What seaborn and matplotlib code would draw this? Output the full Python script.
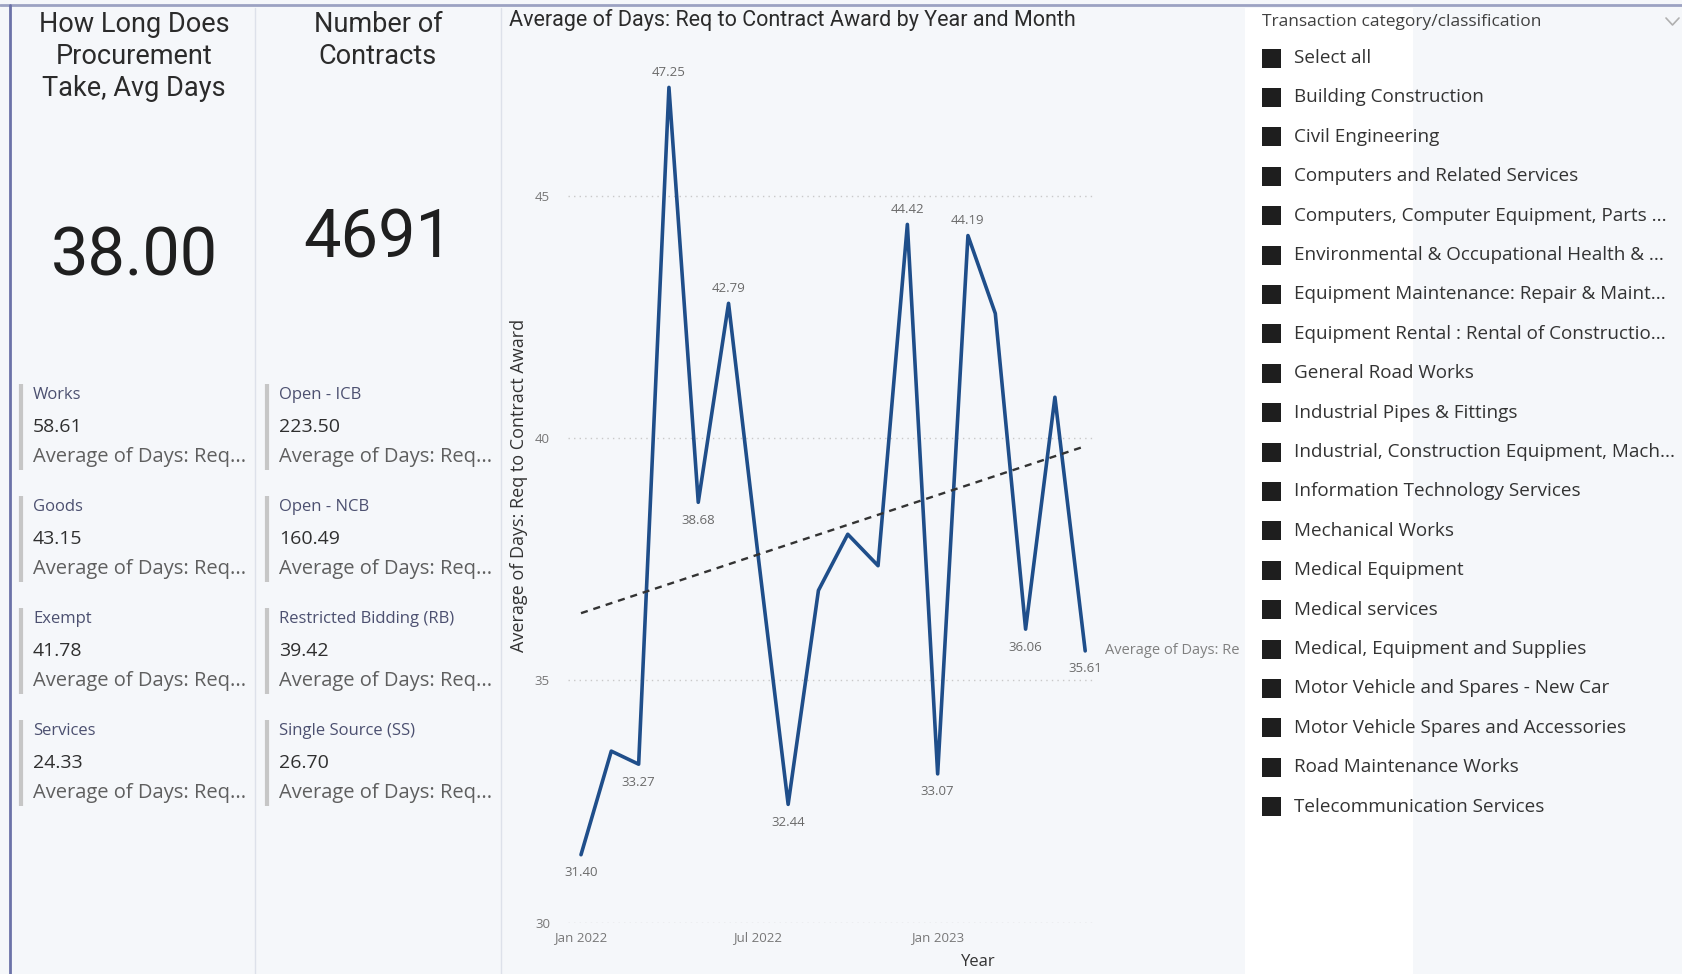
import numpy as np
import pandas as pd
import matplotlib
matplotlib.use("Agg")
import matplotlib.pyplot as plt
import matplotlib.dates as mdates
from matplotlib.patches import Rectangle
import seaborn as sns

# --- data ---
months = ["2022-01", "2022-02", "2022-03", "2022-04", "2022-05", "2022-06",
          "2022-07", "2022-08", "2022-09", "2022-10", "2022-11", "2022-12",
          "2023-01", "2023-02", "2023-03", "2023-04", "2023-05", "2023-06"]
avg_days = [31.40, 33.54, 33.27, 47.25, 38.68, 42.79,
            37.62, 32.44, 36.86, 38.02, 37.37, 44.42,
            33.07, 44.19, 42.58, 36.06, 40.85, 35.61]
# where Power BI put a data label (None = no label)
label_side = ["below", None, "below", "above", "below", "above",
              None, "below", None, None, None, "above",
              "below", "above", None, "below", None, "below"]

kpi_avg_days = 38.00
kpi_contracts = 4691

type_labels = ["Works", "Goods", "Exempt", "Services"]
type_values = [58.61, 43.15, 41.78, 24.33]
method_labels = ["Open - ICB", "Open - NCB", "Restricted Bidding (RB)", "Single Source (SS)"]
method_values = [223.50, 160.49, 39.42, 26.70]

slicer_items = ["Select all", "Building Construction", "Civil Engineering",
                "Computers and Related Services", "Computers, Computer Equipment, Parts ...",
                "Environmental & Occupational Health & ...", "Equipment Maintenance: Repair & Maint...",
                "Equipment Rental : Rental of Constructio...", "General Road Works",
                "Industrial Pipes & Fittings", "Industrial, Construction Equipment, Mach...",
                "Information Technology Services", "Mechanical Works", "Medical Equipment",
                "Medical services", "Medical, Equipment and Supplies",
                "Motor Vehicle and Spares - New Car", "Motor Vehicle Spares and Accessories",
                "Road Maintenance Works", "Telecommunication Services"]

W, H = 1682, 974
BG = "#f5f7fa"
LINE = "#1f4e8a"
DIN = "Roboto"
SEGOE = "Open Sans"

sns.set_theme(style="white")
plt.rcParams["font.family"] = [SEGOE, "DejaVu Sans"]

fig = plt.figure(figsize=(W / 100, H / 100), dpi=100)
fig.patch.set_facecolor(BG)

# pixel-space overlay for cards, borders and the slicer
bg = fig.add_axes([0, 0, 1, 1])
bg.set_xlim(0, W)
bg.set_ylim(H, 0)
bg.axis("off")
bg.set_zorder(0)

bg.add_patch(Rectangle((1245, 8), 168, H, color="white", lw=0))
bg.plot([0, W], [5, 5], color="#9ca2c2", lw=2)
bg.plot([10, 10], [5, H], color="#6b72a8", lw=2)
for xs in (255, 501):
    bg.plot([xs, xs], [8, H], color="#dde1ea", lw=1)

# KPI cards
def card_title(x, text):
    for i, line in enumerate(text.split("\n")):
        bg.text(x, 24 + 32 * i, line, ha="center", va="center",
                fontsize=19.5, family=DIN, color="#2b2b2b")

card_title(134, "How Long Does\nProcurement\nTake, Avg Days")
card_title(378, "Number of\nContracts")
bg.text(134, 258, f"{kpi_avg_days:.2f}", ha="center", va="center",
        fontsize=48, family=DIN, color="#1f1f1f")
bg.text(378, 240, f"{kpi_contracts}", ha="center", va="center",
        fontsize=48, family=DIN, color="#1f1f1f")

# multi-row cards
def multi_row(x, labels, values):
    for i, (lab, val) in enumerate(zip(labels, values)):
        y0 = 395 + 112 * i
        bg.plot([x - 12, x - 12], [y0 - 11, y0 + 75], color="#c6c6c6", lw=3,
                solid_capstyle="butt")
        bg.text(x, y0, lab, va="center", fontsize=12, fontweight="medium", color="#4c5070")
        bg.text(x, y0 + 32, f"{val:.2f}", va="center", fontsize=14, color="#2f2f2f")
        bg.text(x, y0 + 62, "Average of Days: Req...", va="center", fontsize=14.5,
                color="#5f5f5f")

multi_row(33, type_labels, type_values)
multi_row(279, method_labels, method_values)

# slicer
bg.text(1262, 22, "Transaction category/classification", va="center",
        fontsize=12.5, color="#404040")
bg.plot([1666, 1672.5, 1679], [18, 25, 18], color="#b0b0b0", lw=1.2)
for i, item in enumerate(slicer_items):
    yc = 58 + 39.4 * i
    bg.add_patch(Rectangle((1262.5, yc - 9.5), 19, 19, color="#1e1e1e", lw=0))
    bg.text(1294, yc, item, va="center", fontsize=13.6, color="#333333", clip_on=True)

# chart titles and axis titles
bg.text(509, 20, "Average of Days: Req to Contract Award by Year and Month",
        va="center", fontsize=15.5, family=DIN, color="#2b2b2b")
bg.text(519, 485, "Average of Days: Req to Contract Award", rotation=90,
        ha="center", va="center", fontsize=13, color="#333333")
bg.text(978, 962, "Year", ha="center", va="center", fontsize=12, color="#333333")

# line chart
df = pd.DataFrame({"month": pd.to_datetime(months), "days": avg_days})
x_left, x_right, y_bot, y_top = 568, 1094, 922.5, 51.1
ax = fig.add_axes([x_left / W, 1 - y_bot / H, (x_right - x_left) / W, (y_bot - y_top) / H])
ax.set_zorder(1)
ax.patch.set_alpha(0)

sns.lineplot(data=df, x="month", y="days", ax=ax, color=LINE, lw=2.6)

# linear trend across the months
xnum = mdates.date2num(df["month"])
slope, icpt = np.polyfit(xnum, df["days"], 1)
ax.plot(xnum[[0, -1]], icpt + slope * xnum[[0, -1]], color="#333333", lw=1.7,
        ls=(0, (3, 2.5)))

for xv, yv, side in zip(xnum, df["days"], label_side):
    if side is None:
        continue
    dy = 11 if side == "above" else -13
    ax.annotate(f"{yv:.2f}", (xv, yv), xytext=(0, dy), textcoords="offset points",
                ha="center", va="center", fontsize=9.5, color="#6a6a6a")

ax.set_ylim(30, 48)
ax.set_xlim(xnum[0] - 13.3, xnum[-1] + 9)
ax.set_yticks([30, 35, 40, 45])
ax.set_xticks(mdates.date2num(pd.to_datetime(["2022-01-01", "2022-07-01", "2023-01-01"])))
ax.xaxis.set_major_formatter(mdates.DateFormatter("%b %Y"))
ax.tick_params(axis="both", length=0, labelsize=9.5, labelcolor="#777777")
ax.tick_params(axis="y", pad=13)
ax.tick_params(axis="x", pad=6)
ax.grid(axis="y", color="#c9c9c9", ls=(0, (1, 3)), lw=1)
ax.set_xlabel("")
ax.set_ylabel("")
sns.despine(ax=ax, left=True, bottom=True)

# series name at the end of the line (truncated as in the visual)
ax.annotate("Average of Days: Re", (xnum[-1], df["days"].iloc[-1]),
            xytext=(14, 0), textcoords="offset points", va="center",
            fontsize=10.5, color="#808080", annotation_clip=False)

fig.savefig("out.png", dpi=100, facecolor=fig.get_facecolor())
